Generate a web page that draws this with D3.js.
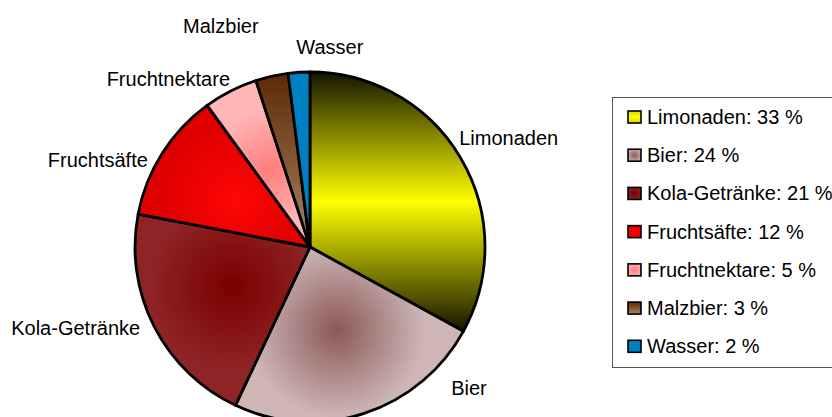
<!DOCTYPE html>
<html>
<head>
<meta charset="utf-8">
<script src="https://cdn.jsdelivr.net/npm/d3@7"></script>
<style>
  html, body { margin: 0; padding: 0; background: #fff; }
  svg { display: block; }
  text { font-family: "Liberation Sans", Arial, sans-serif; fill: #000; }
</style>
</head>
<body>
<svg id="chart" width="832" height="417"></svg>
<script>
// Getränkemarkt: Anteile in Prozent
const categories = ["Limonaden", "Bier", "Kola-Getränke", "Fruchtsäfte", "Fruchtnektare", "Malzbier", "Wasser"];
const shares = [33, 24, 21, 12, 5, 3, 2];
const legendLabels = categories.map((c, i) => `${c}: ${shares[i]} %`);

// Fill styles per slice: linear (vertical) or radial gradients, or flat colour
const fillStyles = [
  { type: "linear", stops: [[0, "#141400"], [0.5, "#ffff00"], [1, "#141400"]] },
  { type: "radial", stops: [[0, "#8c5858"], [1, "#ceb6b6"]] },
  { type: "radial", stops: [[0, "#7a0000"], [1, "#8f2426"]] },
  { type: "radial", stops: [[0, "#ff0606"], [1, "#e00000"]] },
  { type: "radial", stops: [[0, "#ff7c7c"], [1, "#ffb6b6"]] },
  { type: "linear", stops: [[0, "#5e2a08"], [1, "#a58565"]] },
  { type: "flat", color: "#0080c0" }
];

// Label nudges relative to the point just outside each slice (layout only)
const labelNudge = [[-10, -8], [84, -28], [-5, 4], [-6, 19], [4, 4], [-11, -33], [65, -8]];

const svg = d3.select("#chart");
const defs = svg.append("defs");

const cx = 310, cy = 247, R = 175;

const pie = d3.pie().sort(null).value(d => d)(shares);
const arc = d3.arc().innerRadius(0).outerRadius(R);

// Gradients for slices (radial ones centred on each slice's centroid,
// in the pie group's own coordinates)
pie.forEach((p, i) => {
  const st = fillStyles[i];
  if (st.type === "linear") {
    const g = defs.append("linearGradient").attr("id", "sl" + i)
      .attr("x1", 0).attr("y1", 0).attr("x2", 0).attr("y2", 1);
    st.stops.forEach(s => g.append("stop").attr("offset", s[0]).attr("stop-color", s[1]));
  } else if (st.type === "radial") {
    const c = arc.centroid(p);
    const g = defs.append("radialGradient").attr("id", "sl" + i)
      .attr("gradientUnits", "userSpaceOnUse")
      .attr("cx", c[0]).attr("cy", c[1])
      .attr("fx", c[0]).attr("fy", c[1])
      .attr("r", R * (0.2 + 0.35 * Math.sqrt(p.data / 33)));
    st.stops.forEach(s => g.append("stop").attr("offset", s[0]).attr("stop-color", s[1]));
  }
  // swatch versions
  if (st.type === "linear") {
    const g = defs.append("linearGradient").attr("id", "sw" + i)
      .attr("x1", 0).attr("y1", 0).attr("x2", 0).attr("y2", 1);
    const stops = i === 0 ? [[0, "#d8d800"], [0.5, "#ffff00"], [1, "#d8d800"]] : st.stops;
    stops.forEach(s => g.append("stop").attr("offset", s[0]).attr("stop-color", s[1]));
  } else if (st.type === "radial") {
    const g = defs.append("radialGradient").attr("id", "sw" + i)
      .attr("cx", 0.5).attr("cy", 0.5).attr("r", 0.6);
    st.stops.forEach(s => g.append("stop").attr("offset", s[0]).attr("stop-color", s[1]));
  }
});

const fillOf = (i, prefix) => fillStyles[i].type === "flat" ? fillStyles[i].color : `url(#${prefix}${i})`;

const g = svg.append("g").attr("transform", `translate(${cx},${cy})`);

g.selectAll("path.slice")
  .data(pie)
  .join("path")
  .attr("class", "slice")
  .attr("d", arc)
  .attr("fill", (d, i) => fillOf(i, "sl"))
  .attr("stroke", "#000")
  .attr("stroke-width", 2.8)
  .attr("stroke-linejoin", "round");

// Category labels outside the pie
const labelArc = d3.arc().innerRadius(R + 10).outerRadius(R + 10);
g.selectAll("text.lbl")
  .data(pie)
  .join("text")
  .attr("class", "lbl")
  .attr("font-size", 20)
  .each(function (d, i) {
    const mid = (d.startAngle + d.endAngle) / 2;
    const pt = labelArc.centroid(d);
    const anchor = Math.sin(mid) >= 0 ? "start" : "end";
    d3.select(this)
      .attr("x", pt[0] + labelNudge[i][0])
      .attr("y", pt[1] + labelNudge[i][1])
      .attr("text-anchor", anchor)
      .text(categories[i]);
  });

// Legend
const lg = svg.append("g");
lg.append("rect")
  .attr("x", 612.5).attr("y", 97.5)
  .attr("width", 240).attr("height", 270)
  .attr("fill", "#fff").attr("stroke", "#555").attr("stroke-width", 1);

const rowY = d3.scaleLinear().domain([0, categories.length - 1]).range([124, 353.3]);

const rows = lg.selectAll("g.row")
  .data(legendLabels)
  .join("g")
  .attr("class", "row")
  .attr("transform", (d, i) => `translate(0,${rowY(i)})`);

rows.append("rect")
  .attr("x", 628).attr("y", -13)
  .attr("width", 13).attr("height", 12)
  .attr("fill", (d, i) => fillOf(i, "sw"))
  .attr("stroke", "#000").attr("stroke-width", 1.6);

rows.append("text")
  .attr("x", 647).attr("y", 0)
  .attr("font-size", 20)
  .text(d => d);
</script>
</body>
</html>
